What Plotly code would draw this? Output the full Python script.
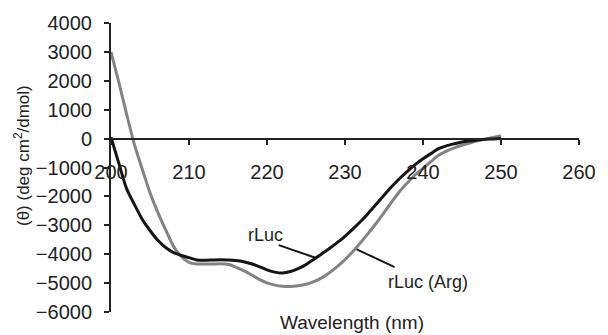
import plotly.graph_objects as go

wavelength = list(range(200, 251))

rluc = [50, -850, -1730, -2280, -2790, -3180, -3520, -3770, -3940, -4040,
        -4120, -4200, -4210, -4200, -4190, -4200, -4220, -4260, -4330, -4430,
        -4540, -4620, -4650, -4600, -4500, -4360, -4180, -3990, -3800, -3600,
        -3380, -3130, -2870, -2580, -2270, -1960, -1660, -1380, -1130, -900,
        -700, -520, -350, -250, -180, -120, -80, -45, -20, -10, 0]

rluc_arg = [3000, 1950, 850, -200, -1050, -1870, -2550, -3150, -3720, -4080,
            -4280, -4340, -4340, -4340, -4330, -4350, -4450, -4570, -4710, -4870,
            -4990, -5070, -5110, -5120, -5090, -5040, -4950, -4820, -4640, -4430,
            -4190, -3910, -3600, -3270, -2930, -2560, -2190, -1830, -1530, -1250,
            -1030, -800, -580, -430, -320, -230, -150, -80, -20, 40, 100]

x_ticks = [200, 210, 220, 230, 240, 250, 260]
y_ticks = [4000, 3000, 2000, 1000, 0, -1000, -2000, -3000, -4000, -5000, -6000]

FONT = "Liberation Sans, Arial, sans-serif"

fig = go.Figure()
fig.add_trace(go.Scatter(x=wavelength, y=rluc_arg, mode="lines", name="rLuc (Arg)",
                         line=dict(color="#838383", width=3, shape="spline", smoothing=0.8)))
fig.add_trace(go.Scatter(x=wavelength, y=rluc, mode="lines", name="rLuc",
                         line=dict(color="#141414", width=3, shape="spline", smoothing=0.8)))

# leader lines for the labels
fig.add_shape(type="line", xref="x", yref="y", x0=221.5, y0=-3685, x1=226.3, y1=-4130,
              line=dict(color="#141414", width=2))
fig.add_shape(type="line", xref="x", yref="y", x0=231.5, y0=-3830, x1=236.35, y1=-4446,
              line=dict(color="#141414", width=2))

fig.add_annotation(x=219.8, y=-3330, xref="x", yref="y", text="rLuc", showarrow=False,
                   font=dict(family=FONT, size=18, color="#222"))
fig.add_annotation(x=240.7, y=-4950, xref="x", yref="y", text="rLuc (Arg)", showarrow=False,
                   font=dict(family=FONT, size=18, color="#222"))

fig.add_annotation(x=0.515, y=-0.037, xref="paper", yref="paper", text="Wavelength (nm)",
                   showarrow=False, yanchor="middle",
                   font=dict(family=FONT, size=19, color="#222"))
fig.add_annotation(x=-0.19, y=0.54, xref="paper", yref="paper",
                   text="(θ) (deg cm<sup>2</sup>/dmol)", textangle=-90,
                   showarrow=False, xanchor="center", yanchor="middle",
                   font=dict(family=FONT, size=17, color="#222"))

fig.update_layout(
    width=608, height=335,
    margin=dict(l=111, r=20, t=20, b=17),
    paper_bgcolor="white", plot_bgcolor="white",
    showlegend=False,
    font=dict(family=FONT, size=20, color="#222"),
    xaxis=dict(range=[200, 260], tickvals=x_ticks, ticks="outside", ticklen=5,
               tickwidth=2, tickcolor="#222", showline=True, linecolor="#222",
               linewidth=2, showgrid=False, zeroline=False, anchor="free",
               position=0.6, tickfont=dict(size=20), ticklabelstandoff=10),
    yaxis=dict(range=[-6000, 4000], tickvals=y_ticks, ticks="outside", ticklen=5,
               tickwidth=2, tickcolor="#222", showline=True, linecolor="#222",
               linewidth=2, showgrid=False, zeroline=False, tickfont=dict(size=20),
               ticklabelstandoff=8),
)

fig.write_html("out.html")
